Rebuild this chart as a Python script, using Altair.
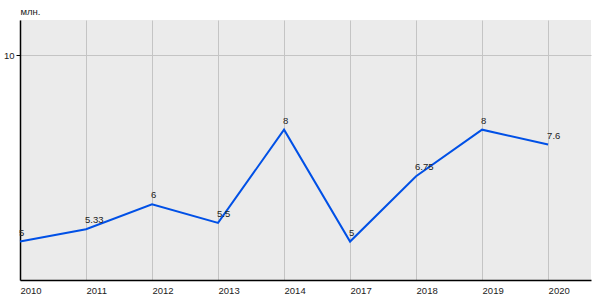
import altair as alt
import pandas as pd

years = ["2010", "2011", "2012", "2013", "2014", "2017", "2018", "2019", "2020"]
values = [5, 5.33, 6, 5.5, 8, 5, 6.75, 8, 7.6]
labels = ["5", "5.33", "6", "5.5", "8", "5", "6.75", "8", "7.6"]

df = pd.DataFrame({
    "idx": list(range(len(years))),
    "year": years,
    "value": values,
    "label": labels,
})

label_expr = "[" + ",".join(f"'{y}'" for y in years) + "][datum.value]"

FS = 9.5

x = alt.X(
    "idx:Q",
    scale=alt.Scale(domain=[0, 8.65], nice=False, zero=False),
    axis=alt.Axis(
        values=list(range(len(years))),
        labelExpr=label_expr,
        title=None,
        ticks=False,
        labelAlign="left",
        labelPadding=5,
        labelFontSize=FS,
        labelColor="#222222",
        labelFont="Liberation Sans",
        domainColor="#000000",
        domainWidth=1.5,
        grid=True,
        gridColor="#c4c4c4",
        gridWidth=1,
    ),
)

y = alt.Y(
    "value:Q",
    scale=alt.Scale(domain=[3.97, 10.94], nice=False, zero=False),
    axis=alt.Axis(
        values=[10],
        title="млн.",
        titleAngle=0,
        titleAlign="left",
        titleBaseline="bottom",
        titleX=0,
        titleY=-4,
        titleFontSize=FS,
        titleFontWeight="normal",
        titleFont="Liberation Sans",
        titleColor="#222222",
        tickSize=4,
        tickColor="#000000",
        labelFontSize=FS,
        labelColor="#222222",
        labelFont="Liberation Sans",
        labelPadding=2,
        domainColor="#000000",
        domainWidth=1.5,
        grid=True,
        gridColor="#c4c4c4",
        gridWidth=1,
    ),
)

base = alt.Chart(df)

line = base.mark_line(color="#0050e6", strokeWidth=2).encode(x=x, y=y)

text = base.mark_text(
    align="left", baseline="bottom", dx=-1, dy=-4,
    fontSize=FS, font="Liberation Sans", color="#222222",
).encode(x="idx:Q", y="value:Q", text="label:N")

chart = (
    alt.layer(line, text)
    .properties(
        width=571,
        height=260,
        padding={"left": 20, "top": 20, "right": 9, "bottom": 20},
        autosize=alt.AutoSizeParams(type="none"),
        background="#ffffff",
    )
    .configure_view(fill="#ebebeb", stroke=None)
)

chart.save("out.html", embed_options={"renderer": "svg", "actions": False})
